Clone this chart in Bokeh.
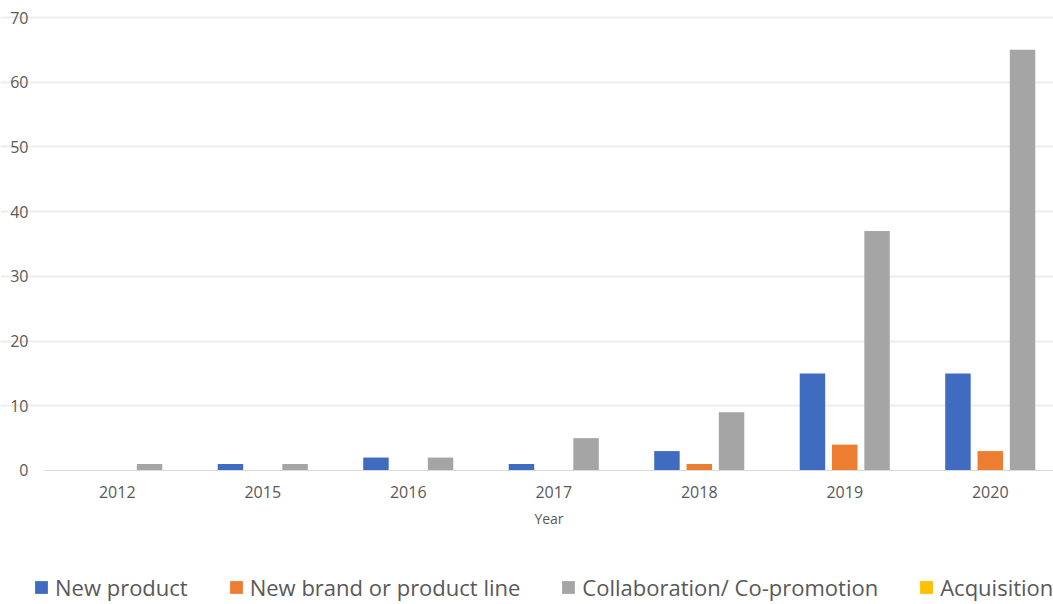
from bokeh.plotting import figure
from bokeh.models import (ColumnDataSource, Range1d, FixedTicker, Legend, LegendItem)
from bokeh.transform import dodge
from bokeh.embed import file_html
from bokeh.resources import INLINE

years = ["2012", "2015", "2016", "2017", "2018", "2019", "2020"]
new_product = [0, 1, 2, 1, 3, 15, 15]
new_brand = [0, 0, 0, 0, 1, 4, 3]
collaboration = [1, 1, 2, 5, 9, 37, 65]
acquisition = [0, 0, 0, 0, 0, 0, 0]
y_ticks = [0, 10, 20, 30, 40, 50, 60, 70]

idx = list(range(len(years)))
src = ColumnDataSource(dict(x=idx, np_=new_product, nb=new_brand,
                            co=collaboration, aq=acquisition))

FONT = "Open Sans"
TXT = "#595959"

# the plotting frame fills the whole figure; axes are pinned at x=-0.5 / y=0
p = figure(width=1053, height=604, output_backend="svg", toolbar_location=None,
           x_range=Range1d(-0.8024, 6.4347), y_range=Range1d(-20.707, 72.627),
           min_border=0)
p.outline_line_color = None
p.background_fill_color = "white"
p.border_fill_color = "white"

bw = 0.175
r1 = p.vbar(x=dodge("x", -0.222), top="np_", width=bw, source=src,
            color="#3F6CC0", line_color=None)
r2 = p.vbar(x=dodge("x", 0.0), top="nb", width=bw, source=src,
            color="#ED7D31", line_color=None)
r3 = p.vbar(x=dodge("x", 0.222), top="co", width=bw, source=src,
            color="#A5A5A5", line_color=None)
r4 = p.vbar(x=dodge("x", 0.444), top="aq", width=bw, source=src,
            color="#FFC000", line_color=None)

# axes
xa = p.xaxis[0]
xa.fixed_location = 0
xa.bounds = (-0.5, 6.4347)
xa.ticker = FixedTicker(ticks=idx)
xa.major_label_overrides = {i: y for i, y in enumerate(years)}
xa.major_tick_line_color = None
xa.minor_tick_line_color = None
xa.axis_line_color = "#D9D9D9"
xa.axis_line_width = 1
xa.major_label_text_font = FONT
xa.major_label_text_font_size = "16px"
xa.major_label_text_color = TXT
xa.major_label_standoff = 10
xa.axis_label = "Year"
xa.axis_label_text_font = FONT
xa.axis_label_text_font_size = "14px"
xa.axis_label_text_font_style = "normal"
xa.axis_label_text_color = TXT
xa.axis_label_standoff = 7

ya = p.yaxis[0]
ya.fixed_location = -0.5
ya.bounds = (0, 70)
ya.ticker = FixedTicker(ticks=y_ticks)
ya.axis_line_color = None
ya.major_tick_line_color = None
ya.minor_tick_line_color = None
ya.major_label_text_font = FONT
ya.major_label_text_font_size = "16px"
ya.major_label_text_color = TXT
ya.major_label_standoff = 10

p.xgrid.grid_line_color = None
p.ygrid.ticker = FixedTicker(ticks=y_ticks[1:])
p.ygrid.bounds = (-0.5, 6.4347)
p.ygrid.grid_line_color = "#EDEDED"
p.ygrid.grid_line_width = 2

labels = ["New product", "New brand or product line",
          "Collaboration/ Co-promotion", "Acquisition"]
rends = [r1, r2, r3, r4]
lg = Legend(items=[LegendItem(label=l, renderers=[r]) for l, r in zip(labels, rends)],
            location=(33, 2), orientation="horizontal",
            padding=0, margin=0, spacing=40,
            border_line_color=None, background_fill_alpha=0,
            glyph_width=16, glyph_height=16, label_standoff=6,
            label_text_font=FONT, label_text_font_size="22px",
            label_text_color=TXT)
p.add_layout(lg, "center")

open("out.html", "w").write(file_html(p, INLINE))
